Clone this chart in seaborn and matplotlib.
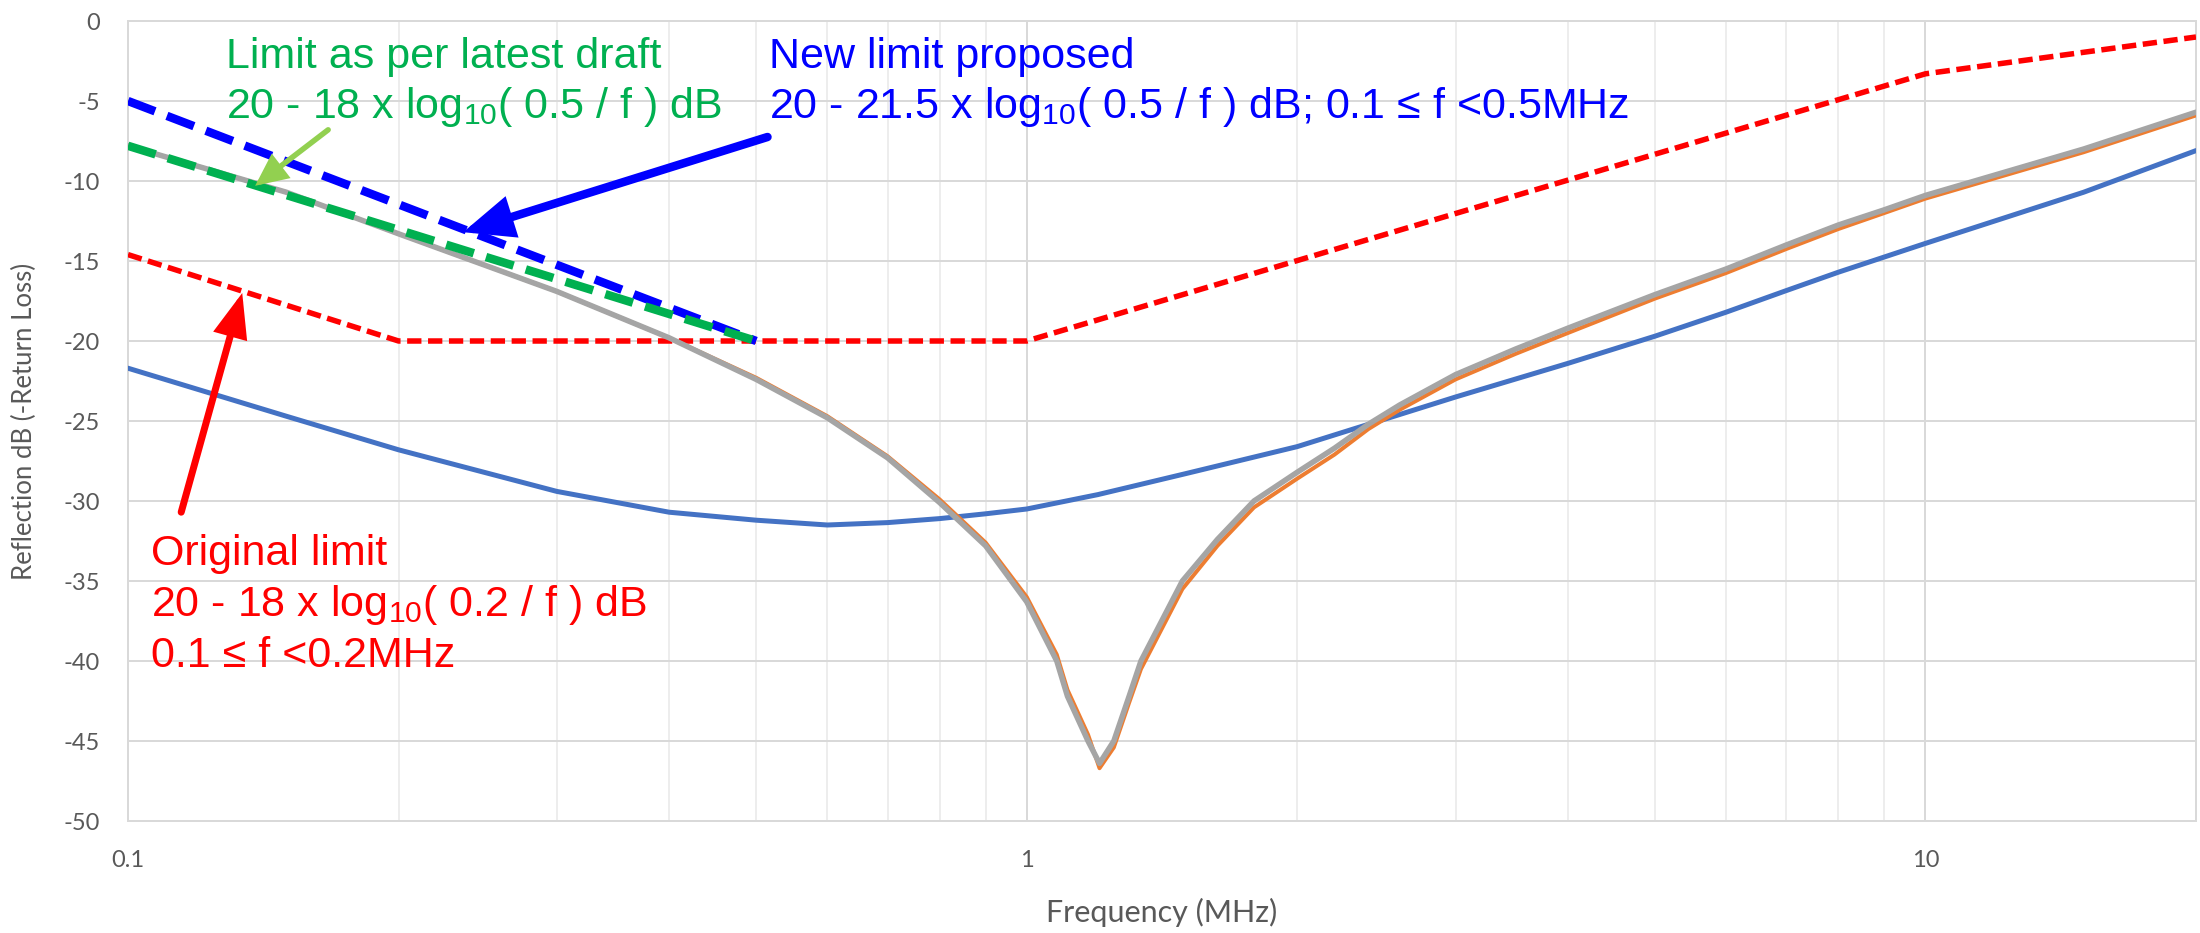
import matplotlib
matplotlib.use("Agg")
import matplotlib.pyplot as plt
import seaborn as sns
from matplotlib.ticker import FixedLocator, LogLocator, NullFormatter

# ---------------- data ----------------
freq_blue = [0.1, 0.15, 0.2, 0.3, 0.4, 0.5, 0.6, 0.7, 0.8, 0.9, 1.0, 1.2, 1.5,
             2.0, 3.0, 4.0, 5.0, 6.0, 7.0, 8.0, 9.0, 10.0, 15.0, 20.0]
refl_blue = [-21.7, -24.7, -26.8, -29.4, -30.7, -31.2, -31.5, -31.35, -31.1, -30.8,
             -30.5, -29.6, -28.3, -26.6, -23.5, -21.4, -19.7, -18.2, -16.85, -15.7,
             -14.75, -13.9, -10.7, -8.1]

freq_dip = [0.1, 0.15, 0.2, 0.3, 0.4, 0.5, 0.6, 0.7, 0.8, 0.9, 1.0, 1.08, 1.11,
            1.17, 1.205, 1.25, 1.30, 1.34, 1.49, 1.63, 1.79, 2.0, 2.2, 2.4, 2.6,
            3.0, 3.5, 4.0, 5.0, 6.0, 7.0, 8.0, 9.0, 10.0, 15.0, 20.0]
refl_gray = [-7.8, -10.7, -13.3, -16.9, -19.8, -22.4, -24.8, -27.3, -30.1, -32.8,
             -36.3, -40.0, -42.2, -45.0, -46.4, -45.0, -42.2, -40.0, -35.0, -32.4,
             -30.0, -28.2, -26.7, -25.2, -24.0, -22.1, -20.5, -19.2, -17.1, -15.5,
             -14.0, -12.75, -11.8, -10.9, -8.0, -5.7]
refl_orange = [-7.8, -10.7, -13.3, -16.9, -19.8, -22.3, -24.7, -27.2, -29.9, -32.6,
               -36.0, -39.6, -41.8, -44.6, -46.7, -45.4, -42.6, -40.5, -35.5, -32.8,
               -30.4, -28.6, -27.1, -25.5, -24.3, -22.4, -20.8, -19.5, -17.35, -15.75,
               -14.25, -13.0, -12.0, -11.1, -8.2, -5.9]

lim_orig_f = [0.1, 0.2, 1.0, 10.0, 20.0]
lim_orig_db = [-14.6, -20.0, -20.0, -3.3, -1.0]
lim_new_f = [0.1, 0.5]
lim_new_db = [-5.0, -20.0]
lim_draft_f = [0.1, 0.5]
lim_draft_db = [-7.8, -20.0]

x_ticks = [0.1, 1, 10]
x_tick_labels = ["0.1", "1", "10"]
y_ticks = list(range(-50, 1, 5))

# ---------------- style ----------------
sns.set_theme(style="white")
plt.rcParams["font.family"] = ["Lato", "DejaVu Sans"]
plt.rcParams["mathtext.fontset"] = "custom"
plt.rcParams["mathtext.rm"] = "Liberation Sans"
plt.rcParams["mathtext.it"] = "Liberation Sans:italic"
plt.rcParams["mathtext.bf"] = "Liberation Sans:bold"

PX = 0.72  # points per pixel at dpi 100
W, H = 2200, 933
fig = plt.figure(figsize=(W / 100, H / 100), dpi=100)
L, R, T, B = 128, 2196, 21, 821
ax = fig.add_axes([L / W, 1 - B / H, (R - L) / W, (B - T) / H])
ax.set_xscale("log")

C_RED = "#FF0000"
C_BLUE_D = "#0000FF"
C_GREEN = "#00B050"
C_LGREEN = "#92D050"
C_BLUE = "#4472C4"
C_ORANGE = "#ED7D31"
C_GRAY = "#A5A5A5"


def draw(x, y, color, lw_px, z, dash=None):
    sns.lineplot(x=x, y=y, ax=ax, color=color, linewidth=lw_px * PX,
                 zorder=z, estimator=None, sort=False)
    line = ax.lines[-1]
    if dash is not None:
        line.set_dashes(dash)
        line.set_dash_capstyle("butt")
    line.set_solid_capstyle("round")
    line.set_solid_joinstyle("round")
    return line


draw(lim_orig_f, lim_orig_db, C_RED, 5.5, 3, dash=(2.6, 1.2))
draw(freq_blue, refl_blue, C_BLUE, 5, 4)
draw(freq_dip, refl_orange, C_ORANGE, 4, 5)
draw(freq_dip, refl_gray, C_GRAY, 5.5, 6)
draw(lim_new_f, lim_new_db, C_BLUE_D, 8.5, 7, dash=(3.4, 1.5))
draw(lim_draft_f, lim_draft_db, C_GREEN, 8.5, 8, dash=(3.4, 1.5))

# ---------------- axes ----------------
ax.set_xlim(0.1, 20)
ax.set_ylim(-50, 0)
ax.xaxis.set_major_locator(FixedLocator(x_ticks))
ax.set_xticklabels(x_tick_labels)
ax.xaxis.set_minor_locator(LogLocator(base=10, subs=[2, 3, 4, 5, 6, 7, 8, 9]))
ax.xaxis.set_minor_formatter(NullFormatter())
ax.set_yticks(y_ticks)
ax.set_yticklabels([str(v) for v in y_ticks])
ax.tick_params(which="both", length=0, labelsize=17, colors="#595959")
ax.tick_params(axis="x", pad=21)
ax.tick_params(axis="y", pad=20)
ax.set_axisbelow(True)
ax.grid(which="major", axis="y", color="#D9D9D9", lw=2 * PX)
ax.grid(which="major", axis="x", color="#D9D9D9", lw=2 * PX)
ax.grid(which="minor", axis="x", color="#EDEDED", lw=2 * PX)
for s in ax.spines.values():
    s.set_color("#D9D9D9")
    s.set_linewidth(2 * PX)
ax.set_xlabel("Frequency (MHz)", fontsize=22, color="#595959", labelpad=19)
ax.set_ylabel("Reflection dB (-Return Loss)", fontsize=18.5, color="#595959",
              labelpad=19)

# ---------------- annotations ----------------
TF = ["Liberation Sans", "DejaVu Sans"]
FS = 31
sub = r"log$_\mathregular{10}$"
ax.text(0.1286, -2.94, "Limit as per latest draft", color=C_GREEN, fontsize=FS,
        family=TF, va="baseline", ha="left", zorder=10)
ax.text(0.1286, -6.06, "20 - 18 x " + sub + "( 0.5 / f ) dB", color=C_GREEN,
        fontsize=FS, family=TF, va="baseline", ha="left", zorder=10)
ax.text(0.517, -2.94, "New limit proposed", color=C_BLUE_D, fontsize=FS,
        family=TF, va="baseline", ha="left", zorder=10)
ax.text(0.517, -6.06, "20 - 21.5 x " + sub + "( 0.5 / f ) dB; 0.1 \u2264 f <0.5MHz",
        color=C_BLUE_D, fontsize=FS, family=TF, va="baseline", ha="left", zorder=10)
ax.text(0.106, -34.0, "Original limit", color=C_RED, fontsize=FS, family=TF,
        va="baseline", ha="left", zorder=10)
ax.text(0.106, -37.2, "20 - 18 x " + sub + "( 0.2 / f ) dB", color=C_RED,
        fontsize=FS, family=TF, va="baseline", ha="left", zorder=10)
ax.text(0.106, -40.4, "0.1 \u2264 f <0.2MHz", color=C_RED, fontsize=FS, family=TF,
        va="baseline", ha="left", zorder=10)


def arrow(tail, head, color, lw_px, hl, hw):
    ax.annotate("", xy=head, xytext=tail, xycoords="data", textcoords="data",
                arrowprops=dict(arrowstyle=f"-|>,head_length={hl},head_width={hw}",
                                color=color, lw=lw_px * PX, shrinkA=0, shrinkB=0,
                                mutation_scale=1, joinstyle="miter"),
                zorder=11)


arrow((0.167, -6.8), (0.1385, -10.3), C_LGREEN, 5.5, 17, 8)
arrow((0.5147, -7.25), (0.236, -13.2), C_BLUE_D, 8.5, 26, 11)
arrow((0.1146, -30.7), (0.134, -17.0), C_RED, 7, 23, 9)

fig.savefig("out.png", dpi=100)
